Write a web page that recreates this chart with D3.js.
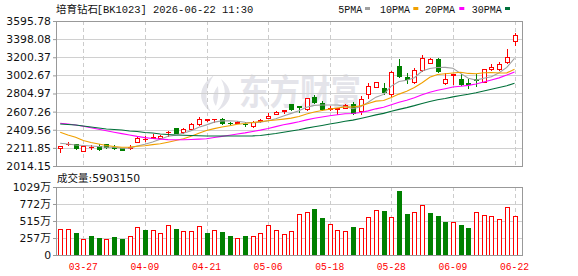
<!DOCTYPE html>
<html><head><meta charset="utf-8">
<script src="https://cdn.jsdelivr.net/npm/d3@7"></script>
<style>html,body{margin:0;padding:0;background:#fff;}svg{display:block;}</style>
</head><body>
<svg id="c" width="578" height="276"></svg>
<script>
// ---------- data ----------
const dates = ["2026-03-24","2026-03-25","2026-03-26","2026-03-27","2026-03-30","2026-03-31","2026-04-01","2026-04-02","2026-04-03","2026-04-07",
"2026-04-08","2026-04-09","2026-04-10","2026-04-13","2026-04-14","2026-04-15","2026-04-16","2026-04-17","2026-04-20","2026-04-21",
"2026-04-22","2026-04-23","2026-04-24","2026-04-27","2026-04-28","2026-04-29","2026-04-30","2026-05-06","2026-05-07","2026-05-08",
"2026-05-11","2026-05-12","2026-05-13","2026-05-14","2026-05-15","2026-05-18","2026-05-19","2026-05-20","2026-05-21","2026-05-22",
"2026-05-25","2026-05-26","2026-05-27","2026-05-28","2026-05-29","2026-06-01","2026-06-02","2026-06-03","2026-06-04","2026-06-05",
"2026-06-08","2026-06-09","2026-06-10","2026-06-11","2026-06-12","2026-06-15","2026-06-16","2026-06-17","2026-06-18","2026-06-22"];
const openP = [2214,2255,2251,2181,2220,2235,2250,2216,2207,2210, 2276,2305,2325,2325,2380,2425,2382,2418,2469,2520,
 2522,2524,2484,2484,2477,2448,2505,2541,2581,2612, 2687,2668,2636,2770,2698,2636,2636,2650,2687,2617,
 2799,2880,2868,2800,3108,2980,2925,3058,3141,3178, 2916,3008,2963,2915,2962,2934,3069,3069,3145,3377];
const highP = [2229,2279,2254,2243,2243,2250,2256,2238,2212,2243, 2330,2338,2360,2355,2400,2432,2432,2480,2548,2532,
 2530,2540,2495,2500,2490,2506,2525,2589,2612,2630, 2695,2668,2760,2789,2720,2670,2650,2685,2716,2781,
 2916,2930,2923,3048,3181,3032,3080,3228,3196,3190, 3025,3020,3017,2960,3020,3075,3123,3152,3287,3470];
const lowP = [2164,2243,2196,2178,2200,2192,2210,2195,2185,2200, 2272,2290,2322,2320,2345,2370,2378,2415,2466,2500,
 2498,2475,2465,2478,2450,2443,2498,2538,2578,2595, 2630,2606,2625,2705,2625,2628,2581,2645,2580,2585,
 2760,2875,2800,2780,2990,2923,2915,3050,3135,3040, 2905,2910,2898,2862,2890,2925,3060,3062,3138,3330];
const closeP = [2229,2257,2214,2236,2226,2200,2221,2208,2192,2221, 2323,2312,2330,2343,2390,2378,2418,2469,2526,2522,
 2528,2488,2478,2495,2470,2495,2516,2560,2606,2620, 2639,2654,2752,2712,2638,2644,2648,2676,2589,2750,
 2886,2925,2826,3043,2996,2960,3061,3192,3178,3054, 2963,3016,2912,2908,2955,3069,3098,3127,3200,3443];
// volume in 万
const volume = [387,387,331,241,286,256,236,271,241,281, 417,376,371,326,447,392,356,356,432,331,
 371,346,286,251,286,281,326,447,371,311, 356,627,658,693,557,462,371,356,422,402,
 582,688,663,582,964,617,658,763,633,587, 497,492,452,407,658,612,597,552,733,590];
// moving-average values before a full window exists
const ma5Head  = [2262,2254,2243,2238];
const ma10Head = [2382,2352,2327,2292,2271,2254,2238,2227,2218];
const ma20Head = [2480,2472,2461,2447,2431,2415,2399,2383,2367,2352,2337,2324,2314,2307,2302,2300,2301,2304,2307];
const ma30Head = [2472,2467,2461,2451,2440,2429,2418,2412,2407,2396,2391,2380,2374,2363,2358,2352,2349,2347,2344,2341,
 2341,2341,2341,2341,2341,2343,2347,2358,2369];
const priceTicks = [2014.15,2211.85,2409.56,2607.26,2804.97,3002.67,3200.37,3398.08,3595.78];
const volTicks = [0,257,515,772,1029];
const labelDates = ["2026-03-27","2026-04-09","2026-04-21","2026-05-06","2026-05-18","2026-05-28","2026-06-09","2026-06-22"];
const titleName = "培育钻石";
const titleRest = "[BK1023] 2026-06-22 11:30";
const lastVolume = 5903150;
const maNames = ["5PMA","10PMA","20PMA","30PMA"];
const maColors = ["#a0a0a0","#f0a000","#ff00ff","#00703a"];

// ---------- layout ----------
const L=56, R=522, T=21, B=166, VT=187, VB=255;
const RED="#ff0000", GREEN="#008000";
const svg = d3.select("#c");
svg.append("rect").attr("width",578).attr("height",276).attr("fill","#fff");

const x = d3.scaleBand().domain(dates).range([56.35, 518.35]).padding(0);
const cxf = d => Math.round(x(d) + x.bandwidth()/2);
const y = d3.scaleLinear().domain([2014.15, 3595.78]).range([B, T]);
const yv = d3.scaleLinear().domain([0, 1029]).range([VB, VT]);

// watermark
const wm = svg.append("g").attr("fill","#e4e4ea");
wm.append("path").attr("d","M214 75 C199 85 196 101 211 112 C204 101 205 88 214 75 Z");
wm.append("path").attr("d","M221 79 C234 89 233 103 217 111 C226 101 227 90 221 79 Z");
wm.append("path").attr("d","M218 86 C212 93 212 101 216 106 C218 100 219 93 218 86 Z");
wm.append("text").attr("x",239).attr("y",105).attr("font-family","Noto Sans CJK SC")
  .attr("font-weight","bold").attr("font-size",35).attr("textLength",122)
  .attr("lengthAdjust","spacingAndGlyphs").text("东方财富");

// gridlines
const grid = svg.append("g");
priceTicks.slice(1,-1).forEach(t=>{
  const yy = Math.round(y(t))+0.5;
  grid.append("line").attr("x1",L).attr("x2",R).attr("y1",yy).attr("y2",yy).attr("stroke","#d0d0d0");
});
volTicks.slice(1,-1).forEach(t=>{
  const yy = Math.round(yv(t))+0.5;
  grid.append("line").attr("x1",L).attr("x2",R).attr("y1",yy).attr("y2",yy).attr("stroke","#d0d0d0");
});
labelDates.forEach(d=>{
  const xx = cxf(d)+0.5;
  grid.append("line").attr("x1",xx).attr("x2",xx).attr("y1",T).attr("y2",B).attr("stroke","#cccccc").attr("stroke-dasharray","4,3");
  grid.append("line").attr("x1",xx).attr("x2",xx).attr("y1",VT).attr("y2",VB).attr("stroke","#cccccc").attr("stroke-dasharray","4,3");
});

// candles
const cg = svg.append("g").attr("shape-rendering","crispEdges");
dates.forEach((d,i)=>{
  const c = cxf(d);
  const o=openP[i], h=highP[i], l=lowP[i], cl=closeP[i];
  const up = cl >= o;
  const top = Math.round(Math.min(y(o),y(cl))), bot = Math.round(Math.max(y(o),y(cl)));
  const yh = Math.round(y(h)), yl = Math.round(y(l));
  if (up) {
    if (yh < top) cg.append("line").attr("x1",c+0.5).attr("x2",c+0.5).attr("y1",yh).attr("y2",top).attr("stroke",RED);
    if (yl > bot) cg.append("line").attr("x1",c+0.5).attr("x2",c+0.5).attr("y1",bot+1).attr("y2",yl+1).attr("stroke",RED);
    if (bot - top < 2) {
      cg.append("rect").attr("x",c-2).attr("y",top).attr("width",5).attr("height",Math.max(1,bot-top+1)).attr("fill",RED);
    } else {
      cg.append("rect").attr("x",c-1.5).attr("y",top+0.5).attr("width",4).attr("height",bot-top)
        .attr("fill","#fff").attr("stroke",RED);
    }
  } else {
    cg.append("line").attr("x1",c+0.5).attr("x2",c+0.5).attr("y1",yh).attr("y2",yl+1).attr("stroke",GREEN);
    cg.append("rect").attr("x",c-2).attr("y",top).attr("width",5).attr("height",Math.max(1,bot-top+1)).attr("fill",GREEN);
  }
});

// moving averages
function movAvg(n, head){
  return closeP.map((c,i)=> i < n-1 ? head[i] : d3.mean(closeP.slice(i-n+1, i+1)));
}
const maSeries = [movAvg(5,ma5Head), movAvg(10,ma10Head), movAvg(20,ma20Head), movAvg(30,ma30Head)];
const line = d3.line().x((v,i)=> x(dates[i]) + x.bandwidth()/2).y(v=>y(v));
const mg = svg.append("g");
maSeries.forEach((s,k)=>{
  mg.append("path").attr("d",line(s)).attr("fill","none").attr("stroke",maColors[k]).attr("stroke-width",1.1);
});

// volume bars
const vg = svg.append("g").attr("shape-rendering","crispEdges");
dates.forEach((d,i)=>{
  const c = cxf(d);
  const up = i===0 ? true : closeP[i] >= closeP[i-1];
  const top = Math.round(yv(volume[i]));
  if (up) {
    vg.append("rect").attr("x",c-1.5).attr("y",top+0.5).attr("width",4).attr("height",VB-top-0.5)
      .attr("fill","#fff").attr("stroke",RED);
  } else {
    vg.append("rect").attr("x",c-2).attr("y",top).attr("width",5).attr("height",VB-top).attr("fill",GREEN);
  }
});

// frames
svg.append("rect").attr("x",L+0.5).attr("y",T+0.5).attr("width",R-L).attr("height",B-T)
  .attr("fill","none").attr("stroke","#999");
svg.append("rect").attr("x",L+0.5).attr("y",VT+0.5).attr("width",R-L).attr("height",VB-VT)
  .attr("fill","none").attr("stroke","#999");

// axes
const yAxis = svg.append("g").attr("transform",`translate(${L},0)`)
  .call(d3.axisLeft(y).tickValues(priceTicks).tickFormat(d3.format(".2f")).tickSizeInner(3).tickSizeOuter(0).tickPadding(2));
const vAxis = svg.append("g").attr("transform",`translate(${L},0)`)
  .call(d3.axisLeft(yv).tickValues(volTicks).tickFormat(d=> d===0 ? "0" : d+"万").tickSizeInner(3).tickSizeOuter(0).tickPadding(2));
[yAxis,vAxis].forEach(a=>{
  a.select(".domain").remove();
  a.selectAll(".tick line").attr("stroke","#999");
  a.selectAll("text").attr("font-family","DejaVu Sans, Noto Sans CJK SC").attr("font-size",10.8).attr("fill","#111");
});
const xAxis = svg.append("g").attr("transform",`translate(0,${VB})`)
  .call(d3.axisBottom(x).tickValues(labelDates).tickFormat(d=>d.slice(5)).tickSize(0).tickPadding(7));
xAxis.select(".domain").remove();
xAxis.selectAll("text").attr("font-family","Liberation Mono").attr("font-size",11).attr("fill",RED)
  .attr("textLength",29).attr("lengthAdjust","spacingAndGlyphs");

// title
const tt = svg.append("text").attr("x",56).attr("y",12.5).attr("fill","#111");
tt.append("tspan").attr("font-family","Noto Sans CJK SC").attr("font-size",10.5).text(titleName);
tt.append("tspan").attr("x",96.7).attr("font-family","Liberation Mono").attr("font-size",11)
  .attr("textLength",156.6).attr("lengthAdjust","spacingAndGlyphs").text(titleRest);

// legend
const legX = [338.3, 380, 425, 471.7];
const legSq = [365, 413.3, 459.3, 505];
maNames.forEach((n,k)=>{
  svg.append("text").attr("x",legX[k]).attr("y",12.5).attr("font-family","Liberation Mono")
    .attr("font-size",10).attr("fill","#111").text(n);
  svg.append("rect").attr("x",legSq[k]).attr("y",7).attr("width",5).attr("height",3).attr("fill",maColors[k]);
});

// volume header
const vt = svg.append("text").attr("x",57).attr("y",181.5).attr("fill","#111");
vt.append("tspan").attr("font-family","Noto Sans CJK SC").attr("font-size",10.5).text("成交量");
vt.append("tspan").attr("font-family","DejaVu Sans").attr("font-size",10.8).text(":" + lastVolume);
</script>
</body></html>
